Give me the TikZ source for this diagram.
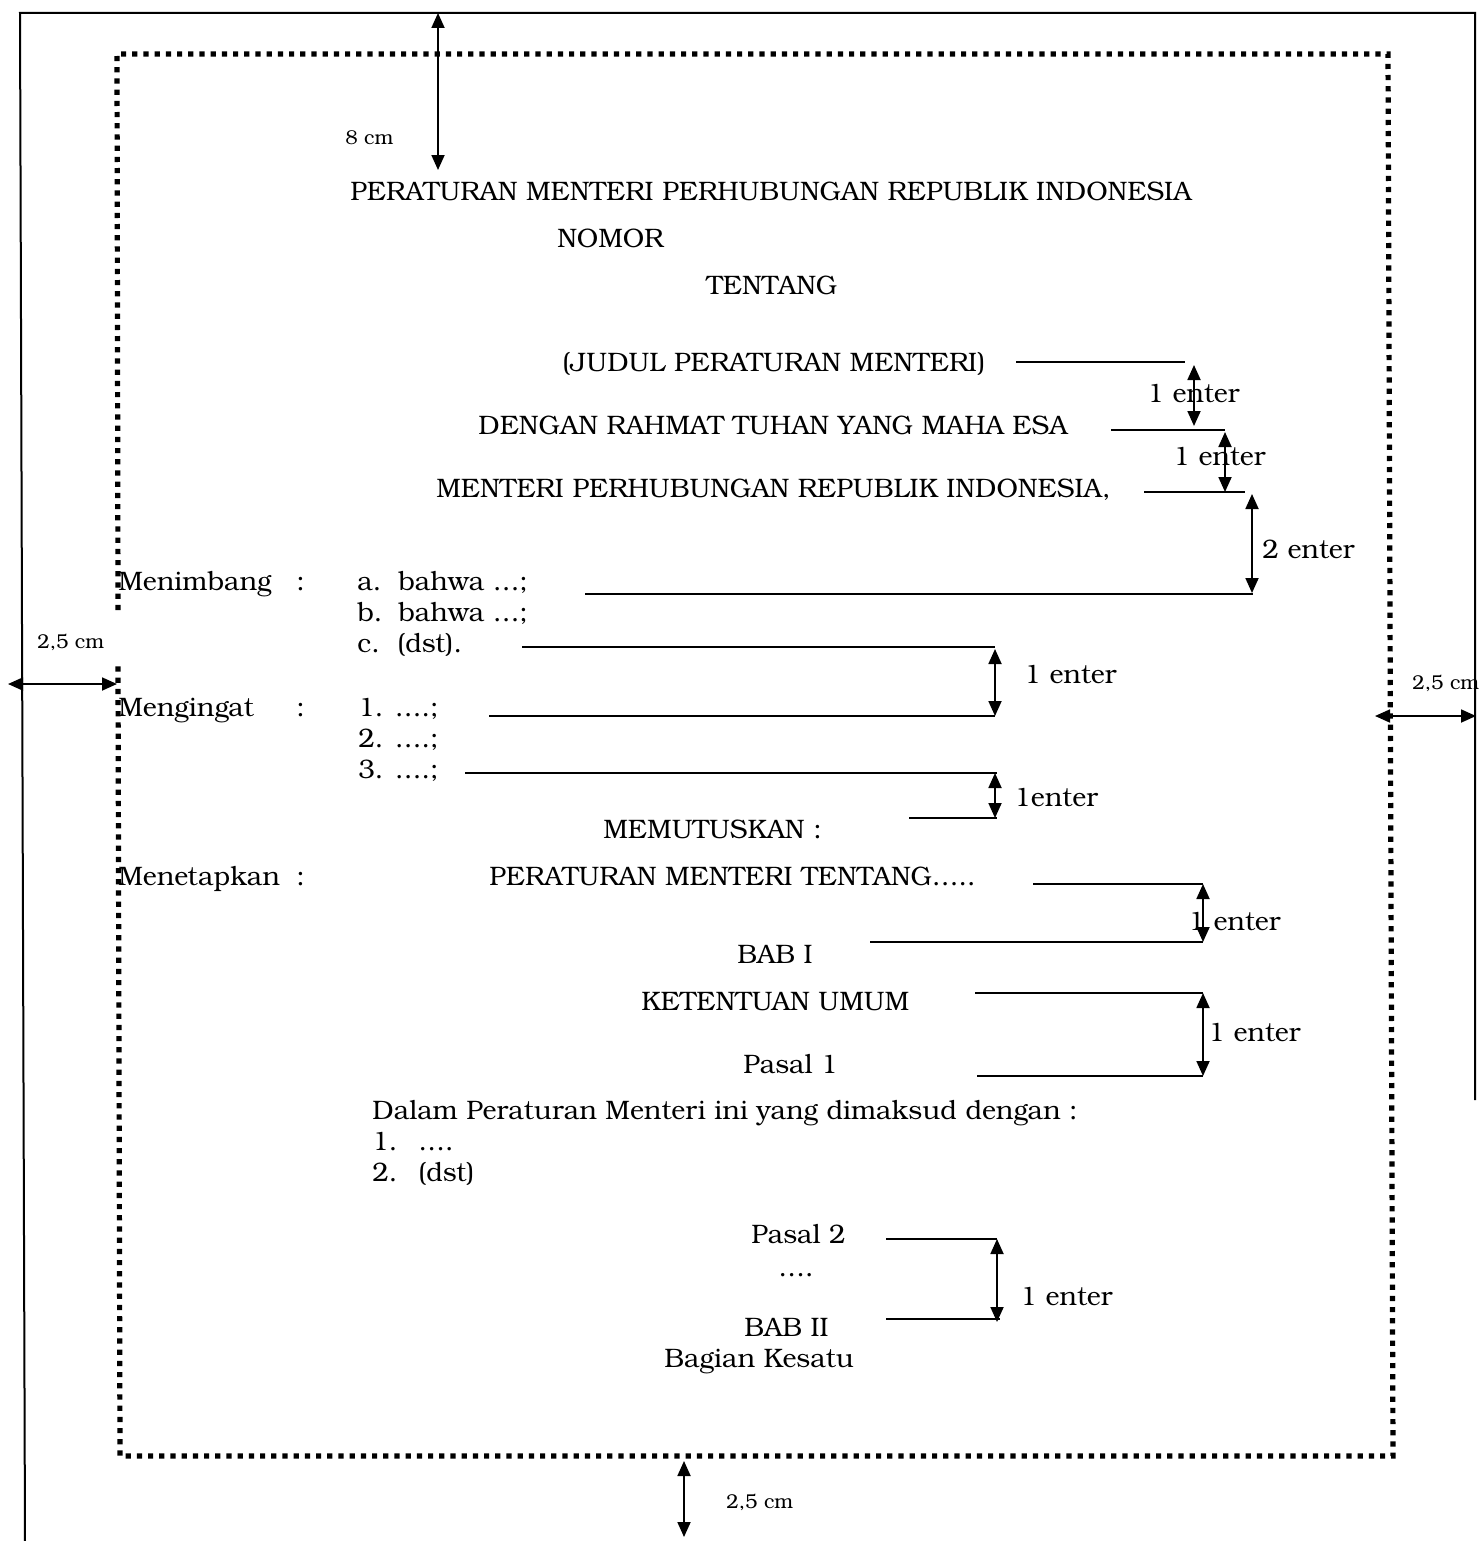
\documentclass[tikz,border=0pt]{standalone}
\usepackage{fontspec}
\setmainfont{TeX Gyre Bonum}
\usetikzlibrary{arrows.meta}
\tikzset{
  txt/.style={inner sep=0pt, anchor=base west, font=\fontsize{13.35}{15}\selectfont},
  small/.style={inner sep=0pt, anchor=base west, font=\fontsize{10}{12}\selectfont},
  guide/.style={line width=1.1pt},
  dim/.style={line width=0.9pt, {Triangle[length=7.5pt,width=6.5pt]}-{Triangle[length=7.5pt,width=6.5pt]}},
  border/.style={line width=1pt},
  dotframe/.style={line width=2.6pt, dash pattern=on 2.6pt off 3pt}
}
\begin{document}
\begin{tikzpicture}[x=0.5pt,y=-0.5pt]
\useasboundingbox[fill=white] (0,0) rectangle (1478,1541);
% outer page border
\draw[border] (25,1541) -- (20,13) -- (1475,13) -- (1475,1100);
% dotted margin frame
\draw[dotframe] (118,610) -- (117,54) -- (1388,54) -- (1393,1456) -- (120,1456) -- (118,666);
% text
\node[txt] (t1) at (350,200) {PERATURAN MENTERI PERHUBUNGAN REPUBLIK INDONESIA};
\node[txt] (t2) at (557,247) {NOMOR};
\node[txt] (t3) at (706,294) {TENTANG};
\node[txt] (t4) at (562,371) {(JUDUL PERATURAN MENTERI)};
\node[txt] (t5) at (478,434) {DENGAN RAHMAT TUHAN YANG MAHA ESA};
\node[txt] (t6) at (436,497) {MENTERI PERHUBUNGAN REPUBLIK INDONESIA,};
\node[txt] (m1) at (118,590) {Menimbang};
\node[txt] (m1c) at (296,590) {:};
\node[txt] (a1) at (357,590) {a.};
\node[txt] (a2) at (398,590) {bahwa \dots;};
\node[txt] (b1) at (357,621) {b.};
\node[txt] (b2) at (398,621) {bahwa \dots;};
\node[txt] (c1) at (357,652) {c.};
\node[txt] (c2) at (397,652) {(dst).};
\node[txt] (m2) at (118,716) {Mengingat};
\node[txt] (m2c) at (296,716) {:};
\node[txt] (n1) at (358,716) {1. \dots.;};
\node[txt] (n2) at (358,747) {2. \dots.;};
\node[txt] (n3) at (358,778) {3. \dots.;};
\node[txt] (mem) at (603,838) {MEMUTUSKAN :};
\node[txt] (m3) at (118,885) {Menetapkan};
\node[txt] (m3c) at (296,885) {:};
\node[txt] (pmt) at (489,885) {PERATURAN MENTERI TENTANG\dots..};
\node[txt] (bab1) at (737,963) {BAB I};
\node[txt] (ku) at (641,1010) {KETENTUAN UMUM};
\node[txt] (ps1) at (743,1073) {Pasal 1};
\node[txt] (dl) at (372,1119) {Dalam Peraturan Menteri ini yang dimaksud dengan :};
\node[txt] (d1) at (372,1150) {1.};
\node[txt] (d1b) at (418,1150) {\dots.};
\node[txt] (d2) at (372,1181) {2.};
\node[txt] (d2b) at (418,1181) {(dst)};
\node[txt] (ps2) at (751,1243) {Pasal 2};
\node[txt] (dots) at (778,1276) {\dots.};
\node[txt] (bab2) at (744,1336) {BAB II};
\node[txt] (bk) at (664,1367) {Bagian Kesatu};
% enter labels
\node[txt] (e1) at (1147,402) {1 enter};
\node[txt] (e2) at (1173,465) {1 enter};
\node[txt] (e3) at (1262,558) {2 enter};
\node[txt] (e4) at (1024,683) {1 enter};
\node[txt] (e5) at (1014,806) {1enter};
\node[txt] (e6) at (1188,930) {1 enter};
\node[txt] (e7) at (1208,1041) {1 enter};
\node[txt] (e8) at (1020,1305) {1 enter};
% margin labels
\node[small] (cm8) at (345,144) {8 cm};
\node[small] (cmL) at (37,648) {2,5 cm};
\node[small] (cmR) at (1412,689) {2,5 cm};
\node[small] (cmB) at (726,1508) {2,5 cm};
% guide lines
\draw[guide] (1016,362) -- (1185,362);
\draw[guide] (1111,430) -- (1225,430);
\draw[guide] (1144,492) -- (1245,492);
\draw[guide] (585,594) -- (1253,594);
\draw[guide] (522,647) -- (995,647);
\draw[guide] (489,716) -- (995,716);
\draw[guide] (465,773) -- (997,773);
\draw[guide] (909,818) -- (997,818);
\draw[guide] (1033,884) -- (1203,884);
\draw[guide] (870,942) -- (1203,942);
\draw[guide] (975,993) -- (1203,993);
\draw[guide] (977,1076) -- (1203,1076);
\draw[guide] (886,1239) -- (997,1239);
\draw[guide] (886,1319) -- (1000,1319);
% dimension arrows
\draw[dim] (438,13) -- (438,170);
\draw[dim] (1194,365) -- (1194,426);
\draw[dim] (1225,432) -- (1225,492);
\draw[dim] (1252,494) -- (1252,593);
\draw[dim] (995,649) -- (995,716);
\draw[dim] (995,773) -- (995,818);
\draw[dim] (1203,884) -- (1203,942);
\draw[dim] (1203,993) -- (1203,1076);
\draw[dim] (997,1239) -- (997,1322);
\draw[dim] (684,1461) -- (684,1537);
\draw[dim] (8,684) -- (117,684);
\draw[dim] (1375,716) -- (1476,716);
\end{tikzpicture}
\end{document}
